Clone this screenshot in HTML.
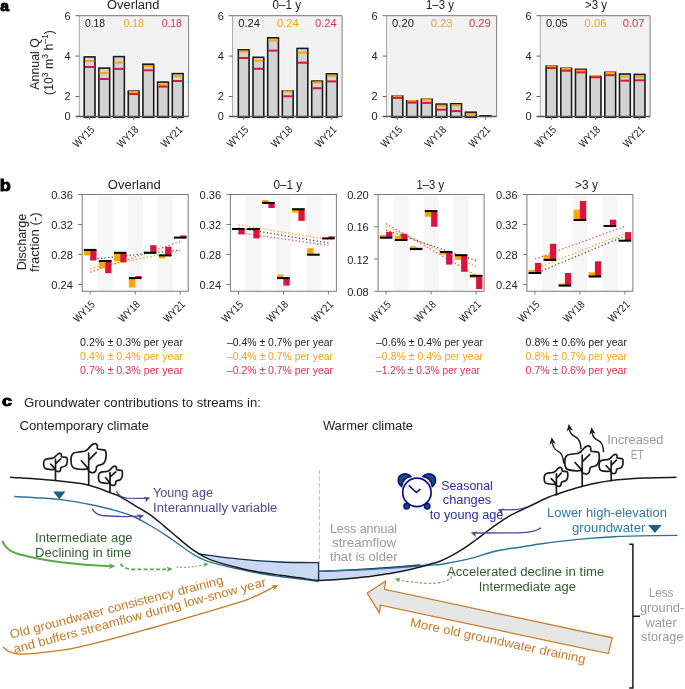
<!DOCTYPE html>
<html><head><meta charset="utf-8"><style>
html,body{margin:0;padding:0;background:#fff;}
svg{display:block;font-family:"Liberation Sans", sans-serif;will-change:transform;}
</style></head><body>
<svg width="685" height="689" viewBox="0 0 685 689">
<rect width="685" height="689" fill="#fff"/>
<text x="0.20" y="11.00" font-size="15.2" fill="#000" font-weight="bold" textLength="8.8" lengthAdjust="spacingAndGlyphs" stroke="#000" stroke-width="0.9">a</text>
<rect x="79.30" y="15.70" width="109.30" height="100.80" fill="#f2f2f2" />
<rect x="82.50" y="55.20" width="14.20" height="61.30" fill="#fafafa" />
<rect x="84.20" y="56.90" width="10.80" height="59.60" fill="#d3d3d3" />
<rect x="84.20" y="56.90" width="10.80" height="60.40" fill="none" stroke="#1a1a1a" stroke-width="1.6" />
<line x1="85.00" y1="61.00" x2="94.20" y2="61.00" stroke="#ffa500" stroke-width="2" />
<line x1="85.00" y1="67.00" x2="94.20" y2="67.00" stroke="#dc143c" stroke-width="2" />
<rect x="97.18" y="66.40" width="14.20" height="50.10" fill="#fafafa" />
<rect x="98.88" y="68.10" width="10.80" height="48.40" fill="#d3d3d3" />
<rect x="98.88" y="68.10" width="10.80" height="49.20" fill="none" stroke="#1a1a1a" stroke-width="1.6" />
<line x1="99.68" y1="73.00" x2="108.88" y2="73.00" stroke="#ffa500" stroke-width="2" />
<line x1="99.68" y1="79.00" x2="108.88" y2="79.00" stroke="#dc143c" stroke-width="2" />
<rect x="111.86" y="54.90" width="14.20" height="61.60" fill="#fafafa" />
<rect x="113.56" y="56.60" width="10.80" height="59.90" fill="#d3d3d3" />
<rect x="113.56" y="56.60" width="10.80" height="60.70" fill="none" stroke="#1a1a1a" stroke-width="1.6" />
<line x1="114.36" y1="62.60" x2="123.56" y2="62.60" stroke="#ffa500" stroke-width="2" />
<line x1="114.36" y1="68.90" x2="123.56" y2="68.90" stroke="#dc143c" stroke-width="2" />
<rect x="126.54" y="89.40" width="14.20" height="27.10" fill="#fafafa" />
<rect x="128.24" y="91.10" width="10.80" height="25.40" fill="#d3d3d3" />
<rect x="128.24" y="91.10" width="10.80" height="26.20" fill="none" stroke="#1a1a1a" stroke-width="1.6" />
<line x1="129.04" y1="92.00" x2="138.24" y2="92.00" stroke="#ffa500" stroke-width="2" />
<line x1="129.04" y1="94.10" x2="138.24" y2="94.10" stroke="#dc143c" stroke-width="2" />
<rect x="141.22" y="62.50" width="14.20" height="54.00" fill="#fafafa" />
<rect x="142.92" y="64.20" width="10.80" height="52.30" fill="#d3d3d3" />
<rect x="142.92" y="64.20" width="10.80" height="53.10" fill="none" stroke="#1a1a1a" stroke-width="1.6" />
<line x1="143.72" y1="66.00" x2="152.92" y2="66.00" stroke="#ffa500" stroke-width="2" />
<line x1="143.72" y1="70.30" x2="152.92" y2="70.30" stroke="#dc143c" stroke-width="2" />
<rect x="155.90" y="80.40" width="14.20" height="36.10" fill="#fafafa" />
<rect x="157.60" y="82.10" width="10.80" height="34.40" fill="#d3d3d3" />
<rect x="157.60" y="82.10" width="10.80" height="35.20" fill="none" stroke="#1a1a1a" stroke-width="1.6" />
<line x1="158.40" y1="84.70" x2="167.60" y2="84.70" stroke="#ffa500" stroke-width="2" />
<line x1="158.40" y1="86.60" x2="167.60" y2="86.60" stroke="#dc143c" stroke-width="2" />
<rect x="170.58" y="71.90" width="14.20" height="44.60" fill="#fafafa" />
<rect x="172.28" y="73.60" width="10.80" height="42.90" fill="#d3d3d3" />
<rect x="172.28" y="73.60" width="10.80" height="43.70" fill="none" stroke="#1a1a1a" stroke-width="1.6" />
<line x1="173.08" y1="76.30" x2="182.28" y2="76.30" stroke="#ffa500" stroke-width="2" />
<line x1="173.08" y1="81.00" x2="182.28" y2="81.00" stroke="#dc143c" stroke-width="2" />
<line x1="79.30" y1="15.70" x2="188.60" y2="15.70" stroke="#777" stroke-width="1" />
<line x1="188.60" y1="15.70" x2="188.60" y2="116.50" stroke="#808080" stroke-width="1" />
<line x1="79.30" y1="15.70" x2="79.30" y2="116.50" stroke="#a8a8a8" stroke-width="1" />
<line x1="75.50" y1="116.50" x2="188.60" y2="116.50" stroke="#555" stroke-width="1.3" />
<line x1="75.50" y1="15.70" x2="79.30" y2="15.70" stroke="#666" stroke-width="1" />
<text x="70.50" y="19.60" font-size="11" fill="#222" text-anchor="end" >6</text>
<line x1="75.50" y1="56.10" x2="79.30" y2="56.10" stroke="#666" stroke-width="1" />
<text x="70.50" y="60.00" font-size="11" fill="#222" text-anchor="end" >4</text>
<line x1="75.50" y1="96.50" x2="79.30" y2="96.50" stroke="#666" stroke-width="1" />
<text x="70.50" y="100.40" font-size="11" fill="#222" text-anchor="end" >2</text>
<text x="70.50" y="120.40" font-size="11" fill="#222" text-anchor="end" >0</text>
<text x="133.20" y="9.40" font-size="12.3" fill="#222" text-anchor="middle" textLength="52.4" lengthAdjust="spacingAndGlyphs" >Overland</text>
<text x="84.90" y="27.00" font-size="10.8" fill="#222" textLength="20.2" lengthAdjust="spacingAndGlyphs" >0.18</text>
<text x="123.60" y="27.00" font-size="10.8" fill="#f7a21b" textLength="20.2" lengthAdjust="spacingAndGlyphs" >0.18</text>
<text x="161.70" y="27.00" font-size="10.8" fill="#e0304f" textLength="20.2" lengthAdjust="spacingAndGlyphs" >0.18</text>
<line x1="89.60" y1="116.50" x2="89.60" y2="119.90" stroke="#777" stroke-width="1" />
<text x="95.10" y="130.40" font-size="10.8" fill="#222" text-anchor="end" textLength="25.3" lengthAdjust="spacingAndGlyphs" transform="rotate(-45 95.10 130.40)" >WY15</text>
<line x1="133.64" y1="116.50" x2="133.64" y2="119.90" stroke="#777" stroke-width="1" />
<text x="139.14" y="130.40" font-size="10.8" fill="#222" text-anchor="end" textLength="25.3" lengthAdjust="spacingAndGlyphs" transform="rotate(-45 139.14 130.40)" >WY18</text>
<line x1="177.68" y1="116.50" x2="177.68" y2="119.90" stroke="#777" stroke-width="1" />
<text x="183.18" y="130.40" font-size="10.8" fill="#222" text-anchor="end" textLength="25.3" lengthAdjust="spacingAndGlyphs" transform="rotate(-45 183.18 130.40)" >WY21</text>
<rect x="232.60" y="15.70" width="109.50" height="100.80" fill="#f2f2f2" />
<rect x="236.60" y="48.10" width="14.20" height="68.40" fill="#fafafa" />
<rect x="238.30" y="49.80" width="10.80" height="66.70" fill="#d3d3d3" />
<rect x="238.30" y="49.80" width="10.80" height="67.50" fill="none" stroke="#1a1a1a" stroke-width="1.6" />
<line x1="239.10" y1="51.50" x2="248.30" y2="51.50" stroke="#ffa500" stroke-width="2" />
<line x1="239.10" y1="58.00" x2="248.30" y2="58.00" stroke="#dc143c" stroke-width="2" />
<rect x="251.28" y="55.60" width="14.20" height="60.90" fill="#fafafa" />
<rect x="252.98" y="57.30" width="10.80" height="59.20" fill="#d3d3d3" />
<rect x="252.98" y="57.30" width="10.80" height="60.00" fill="none" stroke="#1a1a1a" stroke-width="1.6" />
<line x1="253.78" y1="60.70" x2="262.98" y2="60.70" stroke="#ffa500" stroke-width="2" />
<line x1="253.78" y1="68.80" x2="262.98" y2="68.80" stroke="#dc143c" stroke-width="2" />
<rect x="265.96" y="36.10" width="14.20" height="80.40" fill="#fafafa" />
<rect x="267.66" y="37.80" width="10.80" height="78.70" fill="#d3d3d3" />
<rect x="267.66" y="37.80" width="10.80" height="79.50" fill="none" stroke="#1a1a1a" stroke-width="1.6" />
<line x1="268.46" y1="40.40" x2="277.66" y2="40.40" stroke="#ffa500" stroke-width="2" />
<line x1="268.46" y1="50.60" x2="277.66" y2="50.60" stroke="#dc143c" stroke-width="2" />
<rect x="280.64" y="89.20" width="14.20" height="27.30" fill="#fafafa" />
<rect x="282.34" y="90.90" width="10.80" height="25.60" fill="#d3d3d3" />
<rect x="282.34" y="90.90" width="10.80" height="26.40" fill="none" stroke="#1a1a1a" stroke-width="1.6" />
<line x1="283.14" y1="91.30" x2="292.34" y2="91.30" stroke="#ffa500" stroke-width="2" />
<line x1="283.14" y1="96.30" x2="292.34" y2="96.30" stroke="#dc143c" stroke-width="2" />
<rect x="295.32" y="46.70" width="14.20" height="69.80" fill="#fafafa" />
<rect x="297.02" y="48.40" width="10.80" height="68.10" fill="#d3d3d3" />
<rect x="297.02" y="48.40" width="10.80" height="68.90" fill="none" stroke="#1a1a1a" stroke-width="1.6" />
<line x1="297.82" y1="52.70" x2="307.02" y2="52.70" stroke="#ffa500" stroke-width="2" />
<line x1="297.82" y1="62.70" x2="307.02" y2="62.70" stroke="#dc143c" stroke-width="2" />
<rect x="310.00" y="79.40" width="14.20" height="37.10" fill="#fafafa" />
<rect x="311.70" y="81.10" width="10.80" height="35.40" fill="#d3d3d3" />
<rect x="311.70" y="81.10" width="10.80" height="36.20" fill="none" stroke="#1a1a1a" stroke-width="1.6" />
<line x1="312.50" y1="82.40" x2="321.70" y2="82.40" stroke="#ffa500" stroke-width="2" />
<line x1="312.50" y1="88.20" x2="321.70" y2="88.20" stroke="#dc143c" stroke-width="2" />
<rect x="324.68" y="72.10" width="14.20" height="44.40" fill="#fafafa" />
<rect x="326.38" y="73.80" width="10.80" height="42.70" fill="#d3d3d3" />
<rect x="326.38" y="73.80" width="10.80" height="43.50" fill="none" stroke="#1a1a1a" stroke-width="1.6" />
<line x1="327.18" y1="75.80" x2="336.38" y2="75.80" stroke="#ffa500" stroke-width="2" />
<line x1="327.18" y1="81.40" x2="336.38" y2="81.40" stroke="#dc143c" stroke-width="2" />
<line x1="232.60" y1="15.70" x2="342.10" y2="15.70" stroke="#777" stroke-width="1" />
<line x1="342.10" y1="15.70" x2="342.10" y2="116.50" stroke="#808080" stroke-width="1" />
<line x1="232.60" y1="15.70" x2="232.60" y2="116.50" stroke="#a8a8a8" stroke-width="1" />
<line x1="228.80" y1="116.50" x2="342.10" y2="116.50" stroke="#555" stroke-width="1.3" />
<line x1="228.80" y1="15.70" x2="232.60" y2="15.70" stroke="#666" stroke-width="1" />
<text x="223.80" y="19.60" font-size="11" fill="#222" text-anchor="end" >6</text>
<line x1="228.80" y1="56.10" x2="232.60" y2="56.10" stroke="#666" stroke-width="1" />
<text x="223.80" y="60.00" font-size="11" fill="#222" text-anchor="end" >4</text>
<line x1="228.80" y1="96.50" x2="232.60" y2="96.50" stroke="#666" stroke-width="1" />
<text x="223.80" y="100.40" font-size="11" fill="#222" text-anchor="end" >2</text>
<text x="223.80" y="120.40" font-size="11" fill="#222" text-anchor="end" >0</text>
<text x="286.70" y="9.40" font-size="12.3" fill="#222" text-anchor="middle" textLength="28.6" lengthAdjust="spacingAndGlyphs" >0–1 y</text>
<text x="238.20" y="27.00" font-size="10.8" fill="#222" textLength="21.8" lengthAdjust="spacingAndGlyphs" >0.24</text>
<text x="276.90" y="27.00" font-size="10.8" fill="#f7a21b" textLength="21.8" lengthAdjust="spacingAndGlyphs" >0.24</text>
<text x="315.00" y="27.00" font-size="10.8" fill="#e0304f" textLength="21.8" lengthAdjust="spacingAndGlyphs" >0.24</text>
<line x1="243.70" y1="116.50" x2="243.70" y2="119.90" stroke="#777" stroke-width="1" />
<text x="249.20" y="130.40" font-size="10.8" fill="#222" text-anchor="end" textLength="25.3" lengthAdjust="spacingAndGlyphs" transform="rotate(-45 249.20 130.40)" >WY15</text>
<line x1="287.74" y1="116.50" x2="287.74" y2="119.90" stroke="#777" stroke-width="1" />
<text x="293.24" y="130.40" font-size="10.8" fill="#222" text-anchor="end" textLength="25.3" lengthAdjust="spacingAndGlyphs" transform="rotate(-45 293.24 130.40)" >WY18</text>
<line x1="331.78" y1="116.50" x2="331.78" y2="119.90" stroke="#777" stroke-width="1" />
<text x="337.28" y="130.40" font-size="10.8" fill="#222" text-anchor="end" textLength="25.3" lengthAdjust="spacingAndGlyphs" transform="rotate(-45 337.28 130.40)" >WY21</text>
<rect x="386.50" y="15.70" width="110.10" height="100.80" fill="#f2f2f2" />
<rect x="390.30" y="94.40" width="14.20" height="22.10" fill="#fafafa" />
<rect x="392.00" y="96.10" width="10.80" height="20.40" fill="#d3d3d3" />
<rect x="392.00" y="96.10" width="10.80" height="21.20" fill="none" stroke="#1a1a1a" stroke-width="1.6" />
<line x1="392.80" y1="96.50" x2="402.00" y2="96.50" stroke="#ffa500" stroke-width="2" />
<line x1="392.80" y1="97.90" x2="402.00" y2="97.90" stroke="#dc143c" stroke-width="2" />
<rect x="404.98" y="99.10" width="14.20" height="17.40" fill="#fafafa" />
<rect x="406.68" y="100.80" width="10.80" height="15.70" fill="#d3d3d3" />
<rect x="406.68" y="100.80" width="10.80" height="16.50" fill="none" stroke="#1a1a1a" stroke-width="1.6" />
<line x1="407.48" y1="100.90" x2="416.68" y2="100.90" stroke="#ffa500" stroke-width="2" />
<line x1="407.48" y1="102.60" x2="416.68" y2="102.60" stroke="#dc143c" stroke-width="2" />
<rect x="419.66" y="97.50" width="14.20" height="19.00" fill="#fafafa" />
<rect x="421.36" y="99.20" width="10.80" height="17.30" fill="#d3d3d3" />
<rect x="421.36" y="99.20" width="10.80" height="18.10" fill="none" stroke="#1a1a1a" stroke-width="1.6" />
<line x1="422.16" y1="99.60" x2="431.36" y2="99.60" stroke="#ffa500" stroke-width="2" />
<line x1="422.16" y1="102.90" x2="431.36" y2="102.90" stroke="#dc143c" stroke-width="2" />
<rect x="434.34" y="102.40" width="14.20" height="14.10" fill="#fafafa" />
<rect x="436.04" y="104.10" width="10.80" height="12.40" fill="#d3d3d3" />
<rect x="436.04" y="104.10" width="10.80" height="13.20" fill="none" stroke="#1a1a1a" stroke-width="1.6" />
<line x1="436.84" y1="105.80" x2="446.04" y2="105.80" stroke="#ffa500" stroke-width="2" />
<line x1="436.84" y1="109.70" x2="446.04" y2="109.70" stroke="#dc143c" stroke-width="2" />
<rect x="449.02" y="102.10" width="14.20" height="14.40" fill="#fafafa" />
<rect x="450.72" y="103.80" width="10.80" height="12.70" fill="#d3d3d3" />
<rect x="450.72" y="103.80" width="10.80" height="13.50" fill="none" stroke="#1a1a1a" stroke-width="1.6" />
<line x1="451.52" y1="105.50" x2="460.72" y2="105.50" stroke="#ffa500" stroke-width="2" />
<line x1="451.52" y1="111.10" x2="460.72" y2="111.10" stroke="#dc143c" stroke-width="2" />
<rect x="463.70" y="110.50" width="14.20" height="6.00" fill="#fafafa" />
<rect x="465.40" y="112.20" width="10.80" height="4.30" fill="#d3d3d3" />
<rect x="465.40" y="112.20" width="10.80" height="5.10" fill="none" stroke="#1a1a1a" stroke-width="1.6" />
<line x1="466.20" y1="113.90" x2="475.40" y2="113.90" stroke="#ffa500" stroke-width="2" />
<rect x="478.38" y="114.10" width="14.20" height="2.40" fill="#fafafa" />
<rect x="479.28" y="115.00" width="12.40" height="2.10" fill="#111" />
<line x1="386.50" y1="15.70" x2="496.60" y2="15.70" stroke="#777" stroke-width="1" />
<line x1="496.60" y1="15.70" x2="496.60" y2="116.50" stroke="#808080" stroke-width="1" />
<line x1="386.50" y1="15.70" x2="386.50" y2="116.50" stroke="#a8a8a8" stroke-width="1" />
<line x1="382.70" y1="116.50" x2="496.60" y2="116.50" stroke="#555" stroke-width="1.3" />
<line x1="382.70" y1="15.70" x2="386.50" y2="15.70" stroke="#666" stroke-width="1" />
<text x="377.70" y="19.60" font-size="11" fill="#222" text-anchor="end" >6</text>
<line x1="382.70" y1="56.10" x2="386.50" y2="56.10" stroke="#666" stroke-width="1" />
<text x="377.70" y="60.00" font-size="11" fill="#222" text-anchor="end" >4</text>
<line x1="382.70" y1="96.50" x2="386.50" y2="96.50" stroke="#666" stroke-width="1" />
<text x="377.70" y="100.40" font-size="11" fill="#222" text-anchor="end" >2</text>
<text x="377.70" y="120.40" font-size="11" fill="#222" text-anchor="end" >0</text>
<text x="440.00" y="9.40" font-size="12.3" fill="#222" text-anchor="middle" textLength="28.0" lengthAdjust="spacingAndGlyphs" >1–3 y</text>
<text x="392.10" y="27.00" font-size="10.8" fill="#222" textLength="21.8" lengthAdjust="spacingAndGlyphs" >0.20</text>
<text x="430.80" y="27.00" font-size="10.8" fill="#f7a21b" textLength="21.8" lengthAdjust="spacingAndGlyphs" >0.23</text>
<text x="468.90" y="27.00" font-size="10.8" fill="#e0304f" textLength="21.8" lengthAdjust="spacingAndGlyphs" >0.29</text>
<line x1="397.40" y1="116.50" x2="397.40" y2="119.90" stroke="#777" stroke-width="1" />
<text x="402.90" y="130.40" font-size="10.8" fill="#222" text-anchor="end" textLength="25.3" lengthAdjust="spacingAndGlyphs" transform="rotate(-45 402.90 130.40)" >WY15</text>
<line x1="441.44" y1="116.50" x2="441.44" y2="119.90" stroke="#777" stroke-width="1" />
<text x="446.94" y="130.40" font-size="10.8" fill="#222" text-anchor="end" textLength="25.3" lengthAdjust="spacingAndGlyphs" transform="rotate(-45 446.94 130.40)" >WY18</text>
<line x1="485.48" y1="116.50" x2="485.48" y2="119.90" stroke="#777" stroke-width="1" />
<text x="490.98" y="130.40" font-size="10.8" fill="#222" text-anchor="end" textLength="25.3" lengthAdjust="spacingAndGlyphs" transform="rotate(-45 490.98 130.40)" >WY21</text>
<rect x="540.30" y="15.70" width="109.80" height="100.80" fill="#f2f2f2" />
<rect x="544.40" y="64.50" width="14.20" height="52.00" fill="#fafafa" />
<rect x="546.10" y="66.20" width="10.80" height="50.30" fill="#d3d3d3" />
<rect x="546.10" y="66.20" width="10.80" height="51.10" fill="none" stroke="#1a1a1a" stroke-width="1.6" />
<line x1="546.90" y1="66.80" x2="556.10" y2="66.80" stroke="#ffa500" stroke-width="2" />
<line x1="546.90" y1="68.10" x2="556.10" y2="68.10" stroke="#dc143c" stroke-width="2" />
<rect x="559.08" y="66.60" width="14.20" height="49.90" fill="#fafafa" />
<rect x="560.78" y="68.30" width="10.80" height="48.20" fill="#d3d3d3" />
<rect x="560.78" y="68.30" width="10.80" height="49.00" fill="none" stroke="#1a1a1a" stroke-width="1.6" />
<line x1="561.58" y1="69.00" x2="570.78" y2="69.00" stroke="#ffa500" stroke-width="2" />
<line x1="561.58" y1="70.70" x2="570.78" y2="70.70" stroke="#dc143c" stroke-width="2" />
<rect x="573.76" y="67.60" width="14.20" height="48.90" fill="#fafafa" />
<rect x="575.46" y="69.30" width="10.80" height="47.20" fill="#d3d3d3" />
<rect x="575.46" y="69.30" width="10.80" height="48.00" fill="none" stroke="#1a1a1a" stroke-width="1.6" />
<line x1="576.26" y1="70.70" x2="585.46" y2="70.70" stroke="#ffa500" stroke-width="2" />
<line x1="576.26" y1="72.40" x2="585.46" y2="72.40" stroke="#dc143c" stroke-width="2" />
<rect x="588.44" y="74.70" width="14.20" height="41.80" fill="#fafafa" />
<rect x="590.14" y="76.40" width="10.80" height="40.10" fill="#d3d3d3" />
<rect x="590.14" y="76.40" width="10.80" height="40.90" fill="none" stroke="#1a1a1a" stroke-width="1.6" />
<line x1="590.94" y1="76.20" x2="600.14" y2="76.20" stroke="#ffa500" stroke-width="2" />
<line x1="590.94" y1="77.30" x2="600.14" y2="77.30" stroke="#dc143c" stroke-width="2" />
<rect x="603.12" y="70.60" width="14.20" height="45.90" fill="#fafafa" />
<rect x="604.82" y="72.30" width="10.80" height="44.20" fill="#d3d3d3" />
<rect x="604.82" y="72.30" width="10.80" height="45.00" fill="none" stroke="#1a1a1a" stroke-width="1.6" />
<line x1="605.62" y1="73.00" x2="614.82" y2="73.00" stroke="#ffa500" stroke-width="2" />
<line x1="605.62" y1="75.20" x2="614.82" y2="75.20" stroke="#dc143c" stroke-width="2" />
<rect x="617.80" y="72.30" width="14.20" height="44.20" fill="#fafafa" />
<rect x="619.50" y="74.00" width="10.80" height="42.50" fill="#d3d3d3" />
<rect x="619.50" y="74.00" width="10.80" height="43.30" fill="none" stroke="#1a1a1a" stroke-width="1.6" />
<line x1="620.30" y1="76.60" x2="629.50" y2="76.60" stroke="#ffa500" stroke-width="2" />
<line x1="620.30" y1="80.70" x2="629.50" y2="80.70" stroke="#dc143c" stroke-width="2" />
<rect x="632.48" y="72.70" width="14.20" height="43.80" fill="#fafafa" />
<rect x="634.18" y="74.40" width="10.80" height="42.10" fill="#d3d3d3" />
<rect x="634.18" y="74.40" width="10.80" height="42.90" fill="none" stroke="#1a1a1a" stroke-width="1.6" />
<line x1="634.98" y1="76.90" x2="644.18" y2="76.90" stroke="#ffa500" stroke-width="2" />
<line x1="634.98" y1="80.30" x2="644.18" y2="80.30" stroke="#dc143c" stroke-width="2" />
<line x1="540.30" y1="15.70" x2="650.10" y2="15.70" stroke="#777" stroke-width="1" />
<line x1="650.10" y1="15.70" x2="650.10" y2="116.50" stroke="#808080" stroke-width="1" />
<line x1="540.30" y1="15.70" x2="540.30" y2="116.50" stroke="#a8a8a8" stroke-width="1" />
<line x1="536.50" y1="116.50" x2="650.10" y2="116.50" stroke="#555" stroke-width="1.3" />
<line x1="536.50" y1="15.70" x2="540.30" y2="15.70" stroke="#666" stroke-width="1" />
<text x="531.50" y="19.60" font-size="11" fill="#222" text-anchor="end" >6</text>
<line x1="536.50" y1="56.10" x2="540.30" y2="56.10" stroke="#666" stroke-width="1" />
<text x="531.50" y="60.00" font-size="11" fill="#222" text-anchor="end" >4</text>
<line x1="536.50" y1="96.50" x2="540.30" y2="96.50" stroke="#666" stroke-width="1" />
<text x="531.50" y="100.40" font-size="11" fill="#222" text-anchor="end" >2</text>
<text x="531.50" y="120.40" font-size="11" fill="#222" text-anchor="end" >0</text>
<text x="596.00" y="9.40" font-size="12.3" fill="#222" text-anchor="middle" textLength="22.0" lengthAdjust="spacingAndGlyphs" >&gt;3 y</text>
<text x="545.90" y="27.00" font-size="10.8" fill="#222" textLength="21.8" lengthAdjust="spacingAndGlyphs" >0.05</text>
<text x="584.60" y="27.00" font-size="10.8" fill="#f7a21b" textLength="21.8" lengthAdjust="spacingAndGlyphs" >0.06</text>
<text x="622.70" y="27.00" font-size="10.8" fill="#e0304f" textLength="21.8" lengthAdjust="spacingAndGlyphs" >0.07</text>
<line x1="551.50" y1="116.50" x2="551.50" y2="119.90" stroke="#777" stroke-width="1" />
<text x="557.00" y="130.40" font-size="10.8" fill="#222" text-anchor="end" textLength="25.3" lengthAdjust="spacingAndGlyphs" transform="rotate(-45 557.00 130.40)" >WY15</text>
<line x1="595.54" y1="116.50" x2="595.54" y2="119.90" stroke="#777" stroke-width="1" />
<text x="601.04" y="130.40" font-size="10.8" fill="#222" text-anchor="end" textLength="25.3" lengthAdjust="spacingAndGlyphs" transform="rotate(-45 601.04 130.40)" >WY18</text>
<line x1="639.58" y1="116.50" x2="639.58" y2="119.90" stroke="#777" stroke-width="1" />
<text x="645.08" y="130.40" font-size="10.8" fill="#222" text-anchor="end" textLength="25.3" lengthAdjust="spacingAndGlyphs" transform="rotate(-45 645.08 130.40)" >WY21</text>
<text transform="translate(38.5 63.9) rotate(-90)" text-anchor="middle" font-size="12.3" fill="#222" textLength="51.6" lengthAdjust="spacingAndGlyphs">Annual Q</text>
<text transform="translate(52.7 62.5) rotate(-90)" text-anchor="middle" font-size="12.3" fill="#222">(10<tspan font-size="8.6" dy="-4.8">3</tspan><tspan dy="4.8"> m</tspan><tspan font-size="8.6" dy="-4.8">3</tspan><tspan dy="4.8"> h</tspan><tspan font-size="8.6" dy="-4.8">–1</tspan><tspan dy="4.8">)</tspan></text>
<text x="-0.20" y="190.50" font-size="16.6" fill="#000" font-weight="bold" textLength="11.0" lengthAdjust="spacingAndGlyphs" stroke="#000" stroke-width="0.9">b</text>
<rect x="97.70" y="195.50" width="15.00" height="95.30" fill="#f6f6f6" />
<rect x="127.70" y="195.50" width="15.00" height="95.30" fill="#f6f6f6" />
<rect x="157.70" y="195.50" width="15.00" height="95.30" fill="#f6f6f6" />
<line x1="90.2" y1="259.5" x2="180.2" y2="250" stroke="#555" stroke-width="1.3" stroke-dasharray="1.3 2.3" />
<line x1="90.2" y1="268.3" x2="180.2" y2="250.8" stroke="#ffa500" stroke-width="1.3" stroke-dasharray="1.3 2.3" />
<line x1="90.2" y1="272.2" x2="180.2" y2="241.6" stroke="#e8506a" stroke-width="1.3" stroke-dasharray="1.3 2.3" />
<rect x="83.90" y="249.90" width="6.30" height="5.50" fill="#ffa500" />
<rect x="90.20" y="249.90" width="6.30" height="10.60" fill="#dc143c" />
<rect x="83.90" y="248.90" width="12.60" height="2.00" fill="#000" />
<rect x="98.90" y="261.00" width="6.30" height="7.30" fill="#ffa500" />
<rect x="105.20" y="261.00" width="6.30" height="12.20" fill="#dc143c" />
<rect x="98.90" y="260.00" width="12.60" height="2.00" fill="#000" />
<rect x="113.90" y="252.80" width="6.30" height="8.20" fill="#ffa500" />
<rect x="120.20" y="252.80" width="6.30" height="9.60" fill="#dc143c" />
<rect x="113.90" y="251.80" width="12.60" height="2.00" fill="#000" />
<rect x="128.90" y="278.10" width="6.30" height="9.30" fill="#ffa500" />
<rect x="135.20" y="276.00" width="6.30" height="2.10" fill="#dc143c" />
<rect x="128.90" y="277.10" width="12.60" height="2.00" fill="#000" />
<rect x="143.90" y="251.50" width="6.30" height="1.30" fill="#ffa500" />
<rect x="150.20" y="245.20" width="6.30" height="7.60" fill="#dc143c" />
<rect x="143.90" y="251.80" width="12.60" height="2.00" fill="#000" />
<rect x="158.90" y="255.40" width="6.30" height="3.00" fill="#ffa500" />
<rect x="165.20" y="246.70" width="6.30" height="8.70" fill="#dc143c" />
<rect x="158.90" y="254.40" width="12.60" height="2.00" fill="#000" />
<rect x="180.20" y="235.40" width="6.30" height="2.20" fill="#dc143c" />
<rect x="173.90" y="236.60" width="12.60" height="2.00" fill="#000" />
<rect x="82.2" y="194.5" width="106" height="96.80000000000001" fill="none" stroke="#7a7a7a" stroke-width="1"/>
<line x1="78.20" y1="194.50" x2="82.20" y2="194.50" stroke="#777" stroke-width="1" />
<text x="72.90" y="199.20" font-size="10.8" fill="#222" text-anchor="end" textLength="21.6" lengthAdjust="spacingAndGlyphs" >0.36</text>
<line x1="78.20" y1="224.50" x2="82.20" y2="224.50" stroke="#777" stroke-width="1" />
<text x="72.90" y="229.20" font-size="10.8" fill="#222" text-anchor="end" textLength="21.6" lengthAdjust="spacingAndGlyphs" >0.32</text>
<line x1="78.20" y1="254.50" x2="82.20" y2="254.50" stroke="#777" stroke-width="1" />
<text x="72.90" y="259.20" font-size="10.8" fill="#222" text-anchor="end" textLength="21.6" lengthAdjust="spacingAndGlyphs" >0.28</text>
<line x1="78.20" y1="284.50" x2="82.20" y2="284.50" stroke="#777" stroke-width="1" />
<text x="72.90" y="289.20" font-size="10.8" fill="#222" text-anchor="end" textLength="21.6" lengthAdjust="spacingAndGlyphs" >0.24</text>
<text x="134.20" y="188.80" font-size="12.3" fill="#222" text-anchor="middle" textLength="52.9" lengthAdjust="spacingAndGlyphs" >Overland</text>
<line x1="90.20" y1="291.30" x2="90.20" y2="294.50" stroke="#777" stroke-width="1" />
<text x="95.70" y="305.20" font-size="10.8" fill="#222" text-anchor="end" textLength="25.3" lengthAdjust="spacingAndGlyphs" transform="rotate(-45 95.70 305.20)" >WY15</text>
<line x1="135.20" y1="291.30" x2="135.20" y2="294.50" stroke="#777" stroke-width="1" />
<text x="140.70" y="305.20" font-size="10.8" fill="#222" text-anchor="end" textLength="25.3" lengthAdjust="spacingAndGlyphs" transform="rotate(-45 140.70 305.20)" >WY18</text>
<line x1="180.20" y1="291.30" x2="180.20" y2="294.50" stroke="#777" stroke-width="1" />
<text x="185.70" y="305.20" font-size="10.8" fill="#222" text-anchor="end" textLength="25.3" lengthAdjust="spacingAndGlyphs" transform="rotate(-45 185.70 305.20)" >WY21</text>
<rect x="245.90" y="195.50" width="15.00" height="95.30" fill="#f6f6f6" />
<rect x="275.90" y="195.50" width="15.00" height="95.30" fill="#f6f6f6" />
<rect x="305.90" y="195.50" width="15.00" height="95.30" fill="#f6f6f6" />
<line x1="238.4" y1="228" x2="328.4" y2="243" stroke="#555" stroke-width="1.3" stroke-dasharray="1.3 2.3" />
<line x1="238.4" y1="224.8" x2="328.4" y2="239.6" stroke="#ffa500" stroke-width="1.3" stroke-dasharray="1.3 2.3" />
<line x1="238.4" y1="232.6" x2="328.4" y2="245.4" stroke="#e8506a" stroke-width="1.3" stroke-dasharray="1.3 2.3" />
<rect x="238.40" y="229.00" width="6.30" height="5.40" fill="#dc143c" />
<rect x="232.10" y="228.00" width="12.60" height="2.00" fill="#000" />
<rect x="247.10" y="228.20" width="6.30" height="0.80" fill="#ffa500" />
<rect x="253.40" y="229.00" width="6.30" height="9.40" fill="#dc143c" />
<rect x="247.10" y="228.00" width="12.60" height="2.00" fill="#000" />
<rect x="262.10" y="199.90" width="6.30" height="3.00" fill="#ffa500" />
<rect x="268.40" y="202.90" width="6.30" height="5.10" fill="#dc143c" />
<rect x="262.10" y="201.90" width="12.60" height="2.00" fill="#000" />
<rect x="277.10" y="274.60" width="6.30" height="3.50" fill="#ffa500" />
<rect x="283.40" y="278.10" width="6.30" height="7.50" fill="#dc143c" />
<rect x="277.10" y="277.10" width="12.60" height="2.00" fill="#000" />
<rect x="292.10" y="209.20" width="6.30" height="3.50" fill="#ffa500" />
<rect x="298.40" y="209.20" width="6.30" height="11.70" fill="#dc143c" />
<rect x="292.10" y="208.20" width="12.60" height="2.00" fill="#000" />
<rect x="307.10" y="248.20" width="6.30" height="6.50" fill="#ffa500" />
<rect x="307.10" y="253.70" width="12.60" height="2.00" fill="#000" />
<rect x="328.40" y="236.30" width="6.30" height="2.10" fill="#dc143c" />
<rect x="322.10" y="237.40" width="12.60" height="2.00" fill="#000" />
<rect x="230.4" y="194.5" width="106" height="96.80000000000001" fill="none" stroke="#7a7a7a" stroke-width="1"/>
<line x1="226.40" y1="194.50" x2="230.40" y2="194.50" stroke="#777" stroke-width="1" />
<text x="221.10" y="199.20" font-size="10.8" fill="#222" text-anchor="end" textLength="21.6" lengthAdjust="spacingAndGlyphs" >0.36</text>
<line x1="226.40" y1="224.50" x2="230.40" y2="224.50" stroke="#777" stroke-width="1" />
<text x="221.10" y="229.20" font-size="10.8" fill="#222" text-anchor="end" textLength="21.6" lengthAdjust="spacingAndGlyphs" >0.32</text>
<line x1="226.40" y1="254.50" x2="230.40" y2="254.50" stroke="#777" stroke-width="1" />
<text x="221.10" y="259.20" font-size="10.8" fill="#222" text-anchor="end" textLength="21.6" lengthAdjust="spacingAndGlyphs" >0.28</text>
<line x1="226.40" y1="284.50" x2="230.40" y2="284.50" stroke="#777" stroke-width="1" />
<text x="221.10" y="289.20" font-size="10.8" fill="#222" text-anchor="end" textLength="21.6" lengthAdjust="spacingAndGlyphs" >0.24</text>
<text x="287.70" y="188.80" font-size="12.3" fill="#222" text-anchor="middle" textLength="28.6" lengthAdjust="spacingAndGlyphs" >0–1 y</text>
<line x1="238.40" y1="291.30" x2="238.40" y2="294.50" stroke="#777" stroke-width="1" />
<text x="243.90" y="305.20" font-size="10.8" fill="#222" text-anchor="end" textLength="25.3" lengthAdjust="spacingAndGlyphs" transform="rotate(-45 243.90 305.20)" >WY15</text>
<line x1="283.40" y1="291.30" x2="283.40" y2="294.50" stroke="#777" stroke-width="1" />
<text x="288.90" y="305.20" font-size="10.8" fill="#222" text-anchor="end" textLength="25.3" lengthAdjust="spacingAndGlyphs" transform="rotate(-45 288.90 305.20)" >WY18</text>
<line x1="328.40" y1="291.30" x2="328.40" y2="294.50" stroke="#777" stroke-width="1" />
<text x="333.90" y="305.20" font-size="10.8" fill="#222" text-anchor="end" textLength="25.3" lengthAdjust="spacingAndGlyphs" transform="rotate(-45 333.90 305.20)" >WY21</text>
<rect x="393.60" y="195.50" width="15.00" height="95.30" fill="#f6f6f6" />
<rect x="423.60" y="195.50" width="15.00" height="95.30" fill="#f6f6f6" />
<rect x="453.60" y="195.50" width="15.00" height="95.30" fill="#f6f6f6" />
<line x1="386.1" y1="230.2" x2="476.1" y2="260.6" stroke="#555" stroke-width="1.3" stroke-dasharray="1.3 2.3" />
<line x1="386.1" y1="226.7" x2="476.1" y2="266.4" stroke="#ffa500" stroke-width="1.3" stroke-dasharray="1.3 2.3" />
<line x1="386.1" y1="223.7" x2="476.1" y2="275.3" stroke="#e8506a" stroke-width="1.3" stroke-dasharray="1.3 2.3" />
<rect x="379.80" y="234.90" width="6.30" height="2.80" fill="#ffa500" />
<rect x="386.10" y="231.90" width="6.30" height="5.80" fill="#dc143c" />
<rect x="379.80" y="236.70" width="12.60" height="2.00" fill="#000" />
<rect x="394.80" y="236.00" width="6.30" height="4.00" fill="#ffa500" />
<rect x="401.10" y="233.70" width="6.30" height="6.30" fill="#dc143c" />
<rect x="394.80" y="239.00" width="12.60" height="2.00" fill="#000" />
<rect x="409.80" y="246.10" width="6.30" height="3.00" fill="#ffa500" />
<rect x="416.10" y="247.70" width="6.30" height="1.40" fill="#dc143c" />
<rect x="409.80" y="248.10" width="12.60" height="2.00" fill="#000" />
<rect x="424.80" y="211.10" width="6.30" height="5.60" fill="#ffa500" />
<rect x="431.10" y="211.10" width="6.30" height="15.60" fill="#dc143c" />
<rect x="424.80" y="210.10" width="12.60" height="2.00" fill="#000" />
<rect x="439.80" y="252.00" width="6.30" height="2.70" fill="#ffa500" />
<rect x="446.10" y="252.00" width="6.30" height="12.60" fill="#dc143c" />
<rect x="439.80" y="251.00" width="12.60" height="2.00" fill="#000" />
<rect x="454.80" y="255.20" width="6.30" height="4.70" fill="#ffa500" />
<rect x="461.10" y="255.20" width="6.30" height="16.60" fill="#dc143c" />
<rect x="454.80" y="254.20" width="12.60" height="2.00" fill="#000" />
<rect x="469.80" y="275.80" width="6.30" height="2.30" fill="#ffa500" />
<rect x="476.10" y="275.80" width="6.30" height="13.30" fill="#dc143c" />
<rect x="469.80" y="274.80" width="12.60" height="2.00" fill="#000" />
<rect x="378.1" y="194.5" width="106" height="96.80000000000001" fill="none" stroke="#7a7a7a" stroke-width="1"/>
<line x1="374.10" y1="194.50" x2="378.10" y2="194.50" stroke="#777" stroke-width="1" />
<text x="368.80" y="199.20" font-size="10.8" fill="#222" text-anchor="end" textLength="21.6" lengthAdjust="spacingAndGlyphs" >0.20</text>
<line x1="374.10" y1="226.76" x2="378.10" y2="226.76" stroke="#777" stroke-width="1" />
<text x="368.80" y="231.46" font-size="10.8" fill="#222" text-anchor="end" textLength="21.6" lengthAdjust="spacingAndGlyphs" >0.16</text>
<line x1="374.10" y1="259.03" x2="378.10" y2="259.03" stroke="#777" stroke-width="1" />
<text x="368.80" y="263.73" font-size="10.8" fill="#222" text-anchor="end" textLength="21.6" lengthAdjust="spacingAndGlyphs" >0.12</text>
<line x1="374.10" y1="291.30" x2="378.10" y2="291.30" stroke="#777" stroke-width="1" />
<text x="368.80" y="296.00" font-size="10.8" fill="#222" text-anchor="end" textLength="21.6" lengthAdjust="spacingAndGlyphs" >0.08</text>
<text x="430.30" y="188.80" font-size="12.3" fill="#222" text-anchor="middle" textLength="27.7" lengthAdjust="spacingAndGlyphs" >1–3 y</text>
<line x1="386.10" y1="291.30" x2="386.10" y2="294.50" stroke="#777" stroke-width="1" />
<text x="391.60" y="305.20" font-size="10.8" fill="#222" text-anchor="end" textLength="25.3" lengthAdjust="spacingAndGlyphs" transform="rotate(-45 391.60 305.20)" >WY15</text>
<line x1="431.10" y1="291.30" x2="431.10" y2="294.50" stroke="#777" stroke-width="1" />
<text x="436.60" y="305.20" font-size="10.8" fill="#222" text-anchor="end" textLength="25.3" lengthAdjust="spacingAndGlyphs" transform="rotate(-45 436.60 305.20)" >WY18</text>
<line x1="476.10" y1="291.30" x2="476.10" y2="294.50" stroke="#777" stroke-width="1" />
<text x="481.60" y="305.20" font-size="10.8" fill="#222" text-anchor="end" textLength="25.3" lengthAdjust="spacingAndGlyphs" transform="rotate(-45 481.60 305.20)" >WY21</text>
<rect x="542.40" y="195.50" width="15.00" height="95.30" fill="#f6f6f6" />
<rect x="572.40" y="195.50" width="15.00" height="95.30" fill="#f6f6f6" />
<rect x="602.40" y="195.50" width="15.00" height="95.30" fill="#f6f6f6" />
<line x1="535" y1="273.6" x2="625" y2="236" stroke="#555" stroke-width="1.3" stroke-dasharray="1.3 2.3" />
<line x1="535" y1="268.8" x2="625" y2="233.5" stroke="#ffa500" stroke-width="1.3" stroke-dasharray="1.3 2.3" />
<line x1="535" y1="259" x2="625" y2="226.3" stroke="#e8506a" stroke-width="1.3" stroke-dasharray="1.3 2.3" />
<rect x="528.60" y="269.90" width="6.30" height="3.10" fill="#ffa500" />
<rect x="534.90" y="262.90" width="6.30" height="10.10" fill="#dc143c" />
<rect x="528.60" y="272.00" width="12.60" height="2.00" fill="#000" />
<rect x="543.60" y="255.20" width="6.30" height="4.70" fill="#ffa500" />
<rect x="549.90" y="243.80" width="6.30" height="16.10" fill="#dc143c" />
<rect x="543.60" y="258.90" width="12.60" height="2.00" fill="#000" />
<rect x="558.60" y="283.50" width="6.30" height="2.10" fill="#ffa500" />
<rect x="564.90" y="273.00" width="6.30" height="12.60" fill="#dc143c" />
<rect x="558.60" y="284.60" width="12.60" height="2.00" fill="#000" />
<rect x="573.60" y="209.70" width="6.30" height="10.30" fill="#ffa500" />
<rect x="579.90" y="201.00" width="6.30" height="19.00" fill="#dc143c" />
<rect x="573.60" y="219.00" width="12.60" height="2.00" fill="#000" />
<rect x="588.60" y="272.30" width="6.30" height="4.20" fill="#ffa500" />
<rect x="594.90" y="261.30" width="6.30" height="15.20" fill="#dc143c" />
<rect x="588.60" y="275.50" width="12.60" height="2.00" fill="#000" />
<rect x="603.60" y="225.20" width="6.30" height="0.80" fill="#ffa500" />
<rect x="609.90" y="219.70" width="6.30" height="6.30" fill="#dc143c" />
<rect x="603.60" y="225.00" width="12.60" height="2.00" fill="#000" />
<rect x="618.60" y="239.90" width="6.30" height="0.80" fill="#ffa500" />
<rect x="624.90" y="232.10" width="6.30" height="8.60" fill="#dc143c" />
<rect x="618.60" y="239.70" width="12.60" height="2.00" fill="#000" />
<rect x="526.9" y="194.5" width="106" height="96.80000000000001" fill="none" stroke="#7a7a7a" stroke-width="1"/>
<line x1="522.90" y1="194.50" x2="526.90" y2="194.50" stroke="#777" stroke-width="1" />
<text x="517.60" y="199.20" font-size="10.8" fill="#222" text-anchor="end" textLength="21.6" lengthAdjust="spacingAndGlyphs" >0.36</text>
<line x1="522.90" y1="224.50" x2="526.90" y2="224.50" stroke="#777" stroke-width="1" />
<text x="517.60" y="229.20" font-size="10.8" fill="#222" text-anchor="end" textLength="21.6" lengthAdjust="spacingAndGlyphs" >0.32</text>
<line x1="522.90" y1="254.50" x2="526.90" y2="254.50" stroke="#777" stroke-width="1" />
<text x="517.60" y="259.20" font-size="10.8" fill="#222" text-anchor="end" textLength="21.6" lengthAdjust="spacingAndGlyphs" >0.28</text>
<line x1="522.90" y1="284.50" x2="526.90" y2="284.50" stroke="#777" stroke-width="1" />
<text x="517.60" y="289.20" font-size="10.8" fill="#222" text-anchor="end" textLength="21.6" lengthAdjust="spacingAndGlyphs" >0.24</text>
<text x="586.50" y="188.80" font-size="12.3" fill="#222" text-anchor="middle" textLength="22.8" lengthAdjust="spacingAndGlyphs" >&gt;3 y</text>
<line x1="534.90" y1="291.30" x2="534.90" y2="294.50" stroke="#777" stroke-width="1" />
<text x="540.40" y="305.20" font-size="10.8" fill="#222" text-anchor="end" textLength="25.3" lengthAdjust="spacingAndGlyphs" transform="rotate(-45 540.40 305.20)" >WY15</text>
<line x1="579.90" y1="291.30" x2="579.90" y2="294.50" stroke="#777" stroke-width="1" />
<text x="585.40" y="305.20" font-size="10.8" fill="#222" text-anchor="end" textLength="25.3" lengthAdjust="spacingAndGlyphs" transform="rotate(-45 585.40 305.20)" >WY18</text>
<line x1="624.90" y1="291.30" x2="624.90" y2="294.50" stroke="#777" stroke-width="1" />
<text x="630.40" y="305.20" font-size="10.8" fill="#222" text-anchor="end" textLength="25.3" lengthAdjust="spacingAndGlyphs" transform="rotate(-45 630.40 305.20)" >WY21</text>
<text transform="translate(25.5 242) rotate(-90)" text-anchor="middle" font-size="12.3" fill="#222" textLength="56.6" lengthAdjust="spacingAndGlyphs">Discharge</text>
<text transform="translate(39.2 242.2) rotate(-90)" text-anchor="middle" font-size="12.3" fill="#222" textLength="59.4" lengthAdjust="spacingAndGlyphs">fraction (-)</text>
<text x="80.00" y="346.00" font-size="10.7" fill="#222" textLength="103" lengthAdjust="spacingAndGlyphs" >0.2% ± 0.3% per year</text>
<text x="80.00" y="360.20" font-size="10.7" fill="#f7a21b" textLength="103" lengthAdjust="spacingAndGlyphs" >0.4% ± 0.4% per year</text>
<text x="80.00" y="374.40" font-size="10.7" fill="#e0304f" textLength="103" lengthAdjust="spacingAndGlyphs" >0.7% ± 0.3% per year</text>
<text x="227.00" y="346.00" font-size="10.7" fill="#222" textLength="106" lengthAdjust="spacingAndGlyphs" >–0.4% ± 0.7% per year</text>
<text x="227.00" y="360.20" font-size="10.7" fill="#f7a21b" textLength="106" lengthAdjust="spacingAndGlyphs" >–0.4% ± 0.7% per year</text>
<text x="227.00" y="374.40" font-size="10.7" fill="#e0304f" textLength="106" lengthAdjust="spacingAndGlyphs" >–0.2% ± 0.7% per year</text>
<text x="376.00" y="346.00" font-size="10.7" fill="#222" textLength="107" lengthAdjust="spacingAndGlyphs" >–0.6% ± 0.4% per year</text>
<text x="376.00" y="360.20" font-size="10.7" fill="#f7a21b" textLength="107" lengthAdjust="spacingAndGlyphs" >–0.8% ± 0.4% per year</text>
<text x="376.00" y="374.40" font-size="10.7" fill="#e0304f" textLength="104" lengthAdjust="spacingAndGlyphs" >–1.2% ± 0.3% per year</text>
<text x="525.60" y="346.00" font-size="10.7" fill="#222" textLength="101.4" lengthAdjust="spacingAndGlyphs" >0.8% ± 0.6% per year</text>
<text x="525.60" y="360.20" font-size="10.7" fill="#f7a21b" textLength="101.4" lengthAdjust="spacingAndGlyphs" >0.8% ± 0.7% per year</text>
<text x="525.60" y="374.40" font-size="10.7" fill="#e0304f" textLength="101.4" lengthAdjust="spacingAndGlyphs" >0.7% ± 0.6% per year</text>
<text x="2.00" y="406.20" font-size="14" fill="#000" font-weight="bold" textLength="10.0" lengthAdjust="spacingAndGlyphs" stroke="#000" stroke-width="0.9">c</text>
<text x="24.00" y="407.00" font-size="12.5" fill="#222" textLength="237" lengthAdjust="spacingAndGlyphs" >Groundwater contributions to streams in:</text>
<text x="19.40" y="430.00" font-size="12.5" fill="#222" textLength="129.5" lengthAdjust="spacingAndGlyphs" >Contemporary climate</text>
<text x="322.90" y="430.40" font-size="12.5" fill="#222" textLength="90.1" lengthAdjust="spacingAndGlyphs" >Warmer climate</text>
<line x1="319.40" y1="470.00" x2="319.40" y2="563.00" stroke="#b0b0b0" stroke-width="0.8" stroke-dasharray="4.5 2"/>
<path d="M198.50,554.00 C202.08,554.47 213.08,555.95 220.00,556.80 C226.92,557.65 233.33,558.42 240.00,559.10 C246.67,559.78 253.33,560.42 260.00,560.90 C266.67,561.38 273.33,561.73 280.00,562.00 C286.67,562.27 293.57,562.40 300.00,562.50 C306.43,562.60 315.50,562.58 318.60,562.60 L318.6,580.4 C315.50,579.97 306.43,578.65 300.00,577.80 C293.57,576.95 286.67,576.22 280.00,575.30 C273.33,574.38 266.67,573.48 260.00,572.30 C253.33,571.12 246.67,569.78 240.00,568.20 C233.33,566.62 226.92,565.17 220.00,562.80 C213.08,560.43 202.08,555.47 198.50,554.00Z" fill="#c8d8f5" stroke="none"/>
<path d="M198.50,554.00 C202.08,554.47 213.08,555.95 220.00,556.80 C226.92,557.65 233.33,558.42 240.00,559.10 C246.67,559.78 253.33,560.42 260.00,560.90 C266.67,561.38 273.33,561.73 280.00,562.00 C286.67,562.27 293.57,562.40 300.00,562.50 C306.43,562.60 315.50,562.58 318.60,562.60 L318.6,580.4" fill="none" stroke="#1c2b47" stroke-width="1.3"/>
<path d="M318.6,571.3 C360,570 400,567.5 438,561.5 C420,566 400,571 385,573.9 C360,577.5 340,579.5 318.6,580.5Z" fill="#c8d8f5" stroke="none"/>
<path d="M318.6,580.5 L318.6,571.3 C360,570 395,567.5 420,565" fill="none" stroke="#1c2b47" stroke-width="1.3"/>
<path d="M14.20,496.50 C21.63,496.98 45.35,497.90 58.80,499.40 C72.25,500.90 84.70,503.42 94.90,505.50 C105.10,507.58 113.38,509.98 120.00,511.90 C126.62,513.82 129.73,514.82 134.60,517.00 C139.47,519.18 144.33,522.20 149.20,525.00 C154.07,527.80 158.93,530.63 163.80,533.80 C168.67,536.97 173.53,540.60 178.40,544.00 C183.27,547.40 188.13,551.32 193.00,554.20 C197.87,557.08 199.77,558.77 207.60,561.30 C215.43,563.83 231.27,567.37 240.00,569.40 C248.73,571.43 253.33,572.32 260.00,573.50 C266.67,574.68 273.33,575.58 280.00,576.50 C286.67,577.42 293.57,578.17 300.00,579.00 C306.43,579.83 315.50,581.08 318.60,581.50" fill="none" stroke="#2a7396" stroke-width="1.4"/>
<path d="M318.60,571.30 C326.77,571.00 354.17,570.12 367.60,569.50 C381.03,568.88 389.07,568.32 399.20,567.60 C409.33,566.88 421.60,565.72 428.40,565.20 C435.20,564.68 436.12,564.97 440.00,564.50 C443.88,564.03 447.80,563.13 451.70,562.40 C455.60,561.67 459.52,560.93 463.40,560.10 C467.28,559.27 470.07,558.78 475.00,557.40 C479.93,556.02 487.57,553.22 493.00,551.80 C498.43,550.38 503.10,549.67 507.60,548.90 C512.10,548.13 514.63,548.02 520.00,547.20 C525.37,546.38 532.37,545.05 539.80,544.00 C547.23,542.95 556.33,541.83 564.60,540.90 C572.87,539.97 581.12,539.10 589.40,538.40 C597.68,537.70 606.02,537.12 614.30,536.70 C622.58,536.28 628.57,536.12 639.10,535.90 C649.63,535.68 671.10,535.48 677.50,535.40" fill="none" stroke="#2a7396" stroke-width="1.4"/>
<path d="M10.00,477.20 C17.50,477.77 42.00,479.30 55.00,480.60 C68.00,481.90 78.83,483.00 88.00,485.00 C97.17,487.00 104.67,490.67 110.00,492.60 C115.33,494.53 115.90,494.48 120.00,496.60 C124.10,498.72 129.73,502.38 134.60,505.30 C139.47,508.22 144.33,510.68 149.20,514.10 C154.07,517.52 158.93,521.78 163.80,525.80 C168.67,529.82 173.53,534.18 178.40,538.20 C183.27,542.22 187.73,546.33 193.00,549.90 C198.27,553.47 202.17,556.55 210.00,559.60 C217.83,562.65 231.67,566.08 240.00,568.20 C248.33,570.32 253.33,571.12 260.00,572.30 C266.67,573.48 273.33,574.38 280.00,575.30 C286.67,576.22 293.57,576.95 300.00,577.80 C306.43,578.65 310.27,580.27 318.60,580.40 C326.93,580.53 341.43,579.27 350.00,578.60 C358.57,577.93 363.33,577.23 370.00,576.40 C376.67,575.57 383.33,574.73 390.00,573.60 C396.67,572.47 403.60,571.08 410.00,569.60 C416.40,568.12 423.40,566.10 428.40,564.70 C433.40,563.30 436.12,562.70 440.00,561.20 C443.88,559.70 447.80,557.78 451.70,555.70 C455.60,553.62 459.52,551.23 463.40,548.70 C467.28,546.17 471.60,542.97 475.00,540.50 C478.40,538.03 480.38,536.45 483.80,533.90 C487.22,531.35 491.60,527.97 495.50,525.20 C499.40,522.43 503.45,519.55 507.20,517.30 C510.95,515.05 514.03,513.67 518.00,511.70 C521.97,509.73 526.22,507.78 531.00,505.50 C535.78,503.22 542.52,499.83 546.70,498.00 C550.88,496.17 550.55,496.35 556.10,494.50 C561.65,492.65 570.75,489.22 580.00,486.90 C589.25,484.58 600.77,482.08 611.60,480.60 C622.43,479.12 634.18,478.55 645.00,478.00 C655.82,477.45 671.25,477.42 676.50,477.30" fill="none" stroke="#1a1a1a" stroke-width="1.5"/>
<polygon points="53.1,491.6 65.5,491.6 59.3,499.2" fill="#1b5f80"/>
<polygon points="648.1,525.1 661.7,525.1 654.9,533" fill="#1b5f80"/>
<path d="M54.79,469.29 C54.10,469.10 52.97,469.66 51.43,469.54 C49.90,469.43 46.84,469.16 45.58,468.60 C44.33,468.03 44.18,467.33 43.90,466.16 C43.62,464.99 43.62,462.73 43.90,461.59 C44.18,460.45 44.73,459.82 45.58,459.33 C46.44,458.84 47.78,458.86 49.00,458.66 C50.22,458.46 51.93,458.42 52.91,458.15 C53.88,457.88 54.03,457.70 54.85,457.02 C55.67,456.35 56.93,454.70 57.82,454.09 C58.72,453.49 59.63,453.28 60.23,453.40 C60.84,453.52 61.20,454.21 61.45,454.78 C61.70,455.36 60.86,456.38 61.71,456.84 C62.56,457.30 65.62,456.97 66.55,457.53 C67.48,458.10 67.25,459.17 67.30,460.23 C67.35,461.28 67.20,462.86 66.83,463.85 C66.46,464.84 66.02,465.55 65.08,466.16 C64.14,466.76 61.96,466.79 61.19,467.47 C60.42,468.15 60.85,469.53 60.44,470.22 C60.04,470.91 59.44,471.45 58.76,471.60 C58.08,471.75 56.88,471.27 56.35,471.11 C55.82,470.95 55.86,470.96 55.60,470.65 C55.34,470.35 55.49,469.47 54.79,469.29Z" fill="#fff" stroke="#1a1a1a" stroke-width="1.7" stroke-linejoin="round"/>
<path d="M55.50,480.20 L55.50,459.41 M50.69,464.14 L55.27,469.05 M60.75,458.86 L55.50,463.77" fill="none" stroke="#1a1a1a" stroke-width="1.7" stroke-linecap="round"/>
<path d="M87.50,469.00 C86.47,468.71 84.79,469.60 82.51,469.41 C80.22,469.23 75.67,468.80 73.81,467.90 C71.94,467.00 71.72,465.87 71.30,464.00 C70.88,462.13 70.88,458.51 71.30,456.69 C71.72,454.88 72.54,453.87 73.81,453.09 C75.07,452.31 77.07,452.33 78.89,452.01 C80.70,451.69 83.25,451.63 84.70,451.20 C86.15,450.76 86.37,450.47 87.59,449.39 C88.80,448.31 90.67,445.67 92.01,444.71 C93.34,443.74 94.69,443.42 95.59,443.60 C96.49,443.78 97.03,444.89 97.40,445.81 C97.77,446.73 96.52,448.37 97.78,449.10 C99.05,449.83 103.60,449.30 104.99,450.21 C106.37,451.11 106.03,452.83 106.10,454.51 C106.17,456.20 105.95,458.72 105.40,460.30 C104.85,461.88 104.19,463.03 102.79,464.00 C101.40,464.96 98.17,465.01 97.02,466.09 C95.87,467.18 96.51,469.39 95.90,470.49 C95.30,471.59 94.41,472.46 93.40,472.70 C92.38,472.94 90.60,472.17 89.81,471.91 C89.03,471.66 89.09,471.67 88.70,471.19 C88.31,470.70 88.53,469.30 87.50,469.00Z" fill="#fff" stroke="#1a1a1a" stroke-width="1.7" stroke-linejoin="round"/>
<path d="M88.70,484.50 L88.70,453.20 M81.39,460.77 L88.35,468.63 M96.36,452.33 L88.70,460.19" fill="none" stroke="#1a1a1a" stroke-width="1.7" stroke-linecap="round"/>
<path d="M109.73,483.05 C109.03,482.85 107.89,483.44 106.33,483.32 C104.78,483.20 101.68,482.91 100.41,482.32 C99.13,481.72 98.98,480.97 98.70,479.73 C98.42,478.49 98.42,476.09 98.70,474.88 C98.98,473.68 99.55,473.01 100.41,472.49 C101.27,471.97 102.63,471.99 103.87,471.78 C105.10,471.57 106.84,471.53 107.82,471.24 C108.81,470.95 108.96,470.76 109.79,470.04 C110.62,469.32 111.89,467.57 112.80,466.93 C113.71,466.29 114.63,466.08 115.24,466.20 C115.85,466.32 116.23,467.06 116.48,467.67 C116.72,468.27 115.87,469.36 116.74,469.85 C117.60,470.33 120.70,469.98 121.64,470.58 C122.59,471.18 122.35,472.32 122.40,473.44 C122.45,474.55 122.30,476.23 121.93,477.28 C121.55,478.33 121.10,479.09 120.15,479.73 C119.20,480.37 117.00,480.40 116.21,481.12 C115.43,481.84 115.87,483.30 115.46,484.03 C115.05,484.76 114.44,485.34 113.75,485.50 C113.06,485.66 111.84,485.15 111.31,484.98 C110.78,484.81 110.81,484.82 110.55,484.50 C110.29,484.17 110.44,483.25 109.73,483.05Z" fill="#fff" stroke="#1a1a1a" stroke-width="1.7" stroke-linejoin="round"/>
<path d="M110.00,492.50 L110.00,472.57 M105.57,477.59 L109.76,482.80 M115.76,471.99 L110.00,477.20" fill="none" stroke="#1a1a1a" stroke-width="1.7" stroke-linecap="round"/>
<path d="M555.29,484.00 C554.60,483.81 553.47,484.38 551.93,484.26 C550.40,484.14 547.34,483.87 546.08,483.28 C544.83,482.70 544.68,481.96 544.40,480.75 C544.12,479.54 544.12,477.19 544.40,476.00 C544.68,474.82 545.23,474.17 546.08,473.66 C546.93,473.15 548.28,473.17 549.50,472.96 C550.72,472.76 552.43,472.72 553.41,472.43 C554.38,472.15 554.53,471.96 555.35,471.26 C556.17,470.56 557.43,468.85 558.32,468.22 C559.22,467.59 560.13,467.38 560.73,467.50 C561.34,467.62 561.70,468.34 561.95,468.94 C562.20,469.53 561.36,470.60 562.21,471.07 C563.06,471.55 566.12,471.20 567.05,471.79 C567.98,472.38 567.75,473.49 567.80,474.59 C567.85,475.68 567.70,477.32 567.33,478.35 C566.96,479.38 566.52,480.12 565.58,480.75 C564.64,481.38 562.46,481.41 561.69,482.11 C560.92,482.81 561.35,484.25 560.94,484.96 C560.54,485.68 559.94,486.25 559.26,486.40 C558.58,486.55 557.38,486.05 556.85,485.89 C556.32,485.73 556.36,485.73 556.10,485.42 C555.84,485.10 555.99,484.19 555.29,484.00Z" fill="#fff" stroke="#1a1a1a" stroke-width="1.7" stroke-linejoin="round"/>
<path d="M556.40,494.80 L556.40,473.74 M551.19,478.65 L556.17,483.75 M561.25,473.17 L556.40,478.27" fill="none" stroke="#1a1a1a" stroke-width="1.7" stroke-linecap="round"/>
<path d="M581.02,470.43 C580.01,470.15 578.36,471.00 576.11,470.82 C573.87,470.65 569.40,470.23 567.56,469.36 C565.73,468.49 565.51,467.40 565.10,465.60 C564.69,463.80 564.69,460.30 565.10,458.54 C565.51,456.79 566.32,455.81 567.56,455.06 C568.81,454.31 570.77,454.33 572.56,454.02 C574.34,453.72 576.84,453.66 578.27,453.23 C579.69,452.81 579.91,452.54 581.11,451.49 C582.30,450.45 584.14,447.90 585.45,446.97 C586.76,446.04 588.09,445.72 588.97,445.90 C589.86,446.08 590.39,447.15 590.75,448.04 C591.11,448.92 589.88,450.50 591.13,451.21 C592.37,451.92 596.84,451.41 598.21,452.28 C599.57,453.15 599.23,454.81 599.30,456.44 C599.37,458.06 599.16,460.50 598.62,462.03 C598.07,463.56 597.42,464.67 596.05,465.60 C594.68,466.53 591.50,466.58 590.37,467.62 C589.25,468.67 589.87,470.80 589.28,471.86 C588.69,472.93 587.81,473.77 586.82,474.00 C585.82,474.23 584.06,473.48 583.29,473.24 C582.52,473.00 582.58,473.01 582.20,472.54 C581.82,472.07 582.03,470.72 581.02,470.43Z" fill="#fff" stroke="#1a1a1a" stroke-width="1.7" stroke-linejoin="round"/>
<path d="M582.20,485.70 L582.20,455.17 M575.02,462.48 L581.86,470.07 M589.72,454.33 L582.20,461.92" fill="none" stroke="#1a1a1a" stroke-width="1.7" stroke-linecap="round"/>
<path d="M610.33,471.16 C609.63,470.97 608.49,471.55 606.93,471.43 C605.38,471.31 602.28,471.03 601.01,470.43 C599.73,469.84 599.58,469.09 599.30,467.86 C599.02,466.63 599.02,464.24 599.30,463.04 C599.58,461.84 600.15,461.17 601.01,460.66 C601.87,460.14 603.23,460.16 604.47,459.95 C605.70,459.74 607.44,459.70 608.42,459.41 C609.41,459.12 609.56,458.93 610.39,458.22 C611.22,457.51 612.49,455.77 613.40,455.13 C614.31,454.49 615.23,454.28 615.84,454.40 C616.45,454.52 616.83,455.25 617.08,455.86 C617.32,456.46 616.47,457.55 617.34,458.03 C618.20,458.51 621.30,458.16 622.24,458.76 C623.19,459.35 622.95,460.49 623.00,461.60 C623.05,462.71 622.90,464.38 622.53,465.42 C622.15,466.46 621.70,467.22 620.75,467.86 C619.80,468.50 617.60,468.53 616.81,469.24 C616.03,469.96 616.47,471.41 616.06,472.14 C615.65,472.87 615.04,473.44 614.35,473.60 C613.66,473.76 612.44,473.25 611.91,473.08 C611.38,472.92 611.41,472.92 611.15,472.60 C610.89,472.28 611.04,471.36 610.33,471.16Z" fill="#fff" stroke="#1a1a1a" stroke-width="1.7" stroke-linejoin="round"/>
<path d="M611.20,480.60 L611.20,460.74 M606.17,465.73 L610.96,470.91 M616.36,460.16 L611.20,465.34" fill="none" stroke="#1a1a1a" stroke-width="1.7" stroke-linecap="round"/>
<path d="M563.7,463.5 C563.4,457 561.5,452.8 558.2,451.3 C554.8,449.8 552.9,446.5 552.3,442.5" fill="none" stroke="#1a1a1a" stroke-width="1.4"/>
<polygon points="551.60,437.30 555.80,443.75 552.38,442.49 549.47,444.70" fill="#1a1a1a"/>
<path d="M581,449.4 C580.8,443 579,438.6 575.6,437 C572.2,435.5 570.2,433.5 569.4,429.5" fill="none" stroke="#1a1a1a" stroke-width="1.4"/>
<polygon points="568.80,424.00 573.00,430.45 569.58,429.19 566.67,431.40" fill="#1a1a1a"/>
<path d="M603.6,452.3 C603.4,446 601.5,441.6 598,440.3 C594.6,439 592.8,436.3 592,432.5" fill="none" stroke="#1a1a1a" stroke-width="1.4"/>
<polygon points="591.40,427.30 595.60,433.75 592.18,432.49 589.27,434.70" fill="#1a1a1a"/>
<path d="M116.3,491.1 C118,495 121,497.6 127,498.1 L145.5,498.4" fill="none" stroke="#524795" stroke-width="1.3"/>
<polygon points="150.20,497.60 145.47,502.61 145.85,499.25 143.34,497.00" fill="#524795"/>
<path d="M92.2,508.6 C94,512 96.5,514.6 102,515.5 C115,516.8 128,516.8 139.5,516.2" fill="none" stroke="#524795" stroke-width="1.3"/>
<polygon points="143.80,515.00 139.16,520.09 139.48,516.73 136.93,514.52" fill="#524795"/>
<path d="M526.4,506.7 C523,509.2 516,509.9 508,509.8 L502,509.7" fill="none" stroke="#524795" stroke-width="1.3"/>
<polygon points="497.50,509.60 504.30,508.51 501.95,510.94 502.58,514.26" fill="#524795"/>
<path d="M541,527.8 C537,531.5 528,532.6 518,532.9 L475.5,533" fill="none" stroke="#524795" stroke-width="1.3"/>
<polygon points="470.80,532.50 477.60,531.41 475.25,533.84 475.88,537.16" fill="#524795"/>
<path d="M2.3,540.9 C5,548 10,551.5 20,554.5 C45,561 80,565 111,566.2" fill="none" stroke="#5aa84a" stroke-width="2"/>
<polygon points="115.40,566.00 108.99,569.19 110.53,566.15 108.81,563.20" fill="#5aa84a"/>
<path d="M120.5,563.8 C123,567 126,569 132,569.3 L168.5,569.3" fill="none" stroke="#5aa84a" stroke-width="1.8" stroke-dasharray="4 2.2"/>
<polygon points="172.60,569.10 166.66,572.02 168.10,569.19 166.55,566.42" fill="#5aa84a"/>
<path d="M176.4,567 C185,568.2 197,566.5 205,564.5" fill="none" stroke="#5aa84a" stroke-width="1" stroke-dasharray="2 1.8"/>
<polygon points="208.70,563.80 204.25,567.04 205.02,564.54 203.35,562.53" fill="#5aa84a"/>
<path d="M453,572 C452.5,579.5 446,583.3 430,583.3 C416,583.2 406,581.5 398.5,579.8" fill="none" stroke="#5aa84a" stroke-width="1.1" stroke-dasharray="2.5 2"/>
<polygon points="394.70,578.80 400.62,577.81 398.70,579.80 399.45,582.46" fill="#5aa84a"/>
<text x="35.10" y="542.20" font-size="12.5" fill="#2f5f30" textLength="97.5" lengthAdjust="spacingAndGlyphs" >Intermediate age</text>
<text x="35.10" y="556.60" font-size="12.5" fill="#2f5f30" textLength="96.2" lengthAdjust="spacingAndGlyphs" >Declining in time</text>
<text x="525.70" y="576.00" font-size="12.5" fill="#2f5f30" text-anchor="middle" textLength="157.5" lengthAdjust="spacingAndGlyphs" >Accelerated decline in time</text>
<text x="527.30" y="590.80" font-size="12.5" fill="#2f5f30" text-anchor="middle" textLength="97.1" lengthAdjust="spacingAndGlyphs" >Intermediate age</text>
<text x="153.10" y="496.60" font-size="12.5" fill="#524795" textLength="59.8" lengthAdjust="spacingAndGlyphs" >Young age</text>
<text x="153.10" y="511.70" font-size="12.5" fill="#524795" textLength="124.3" lengthAdjust="spacingAndGlyphs" >Interannually variable</text>
<text x="467.00" y="489.80" font-size="12.5" fill="#2b2ba0" text-anchor="middle" textLength="51.5" lengthAdjust="spacingAndGlyphs" >Seasonal</text>
<text x="467.00" y="503.70" font-size="12.5" fill="#2b2ba0" text-anchor="middle" textLength="48.5" lengthAdjust="spacingAndGlyphs" >changes</text>
<text x="466.60" y="518.60" font-size="12.5" fill="#2b2ba0" text-anchor="middle" textLength="73.5" lengthAdjust="spacingAndGlyphs" >to young age</text>
<path d="M401.6,486.7 C396.8,482.5 397.2,475.8 402.5,474.2 C405.5,473.3 409.3,474.3 411.1,476.6 Q403,477.5 401.6,486.7 Z" fill="#1a4a6e" stroke="#0c0c8a" stroke-width="1.5" stroke-linejoin="round"/>
<path d="M432.2,486.7 C437,482.5 436.6,475.8 431.3,474.2 C428.3,473.3 424.5,474.3 422.7,476.6 Q430.8,477.5 432.2,486.7 Z" fill="#1a4a6e" stroke="#0c0c8a" stroke-width="1.5" stroke-linejoin="round"/>
<circle cx="406.6" cy="506.3" r="2.8" fill="#1a4a6e" stroke="#0c0c8a" stroke-width="1.3"/>
<circle cx="427.2" cy="506.3" r="2.8" fill="#1a4a6e" stroke="#0c0c8a" stroke-width="1.3"/>
<circle cx="416.9" cy="492.4" r="14.2" fill="#fff" stroke="#0c0c8a" stroke-width="1.7"/>
<polyline points="408.8,485.4 416.4,492.5 420.3,489.1" fill="none" stroke="#0c0c8a" stroke-width="1.6"/>
<text x="363.50" y="532.70" font-size="12.5" fill="#9a9a9a" text-anchor="middle" textLength="67.2" lengthAdjust="spacingAndGlyphs" >Less annual</text>
<text x="364.10" y="546.70" font-size="12.5" fill="#9a9a9a" text-anchor="middle" textLength="64.2" lengthAdjust="spacingAndGlyphs" >streamflow</text>
<text x="363.80" y="561.30" font-size="12.5" fill="#9a9a9a" text-anchor="middle" textLength="67.7" lengthAdjust="spacingAndGlyphs" >that is older</text>
<text x="635.30" y="443.90" font-size="12.5" fill="#9a9a9a" text-anchor="middle" textLength="56.1" lengthAdjust="spacingAndGlyphs" >Increased</text>
<text x="637.20" y="458.70" font-size="12.5" fill="#9a9a9a" text-anchor="middle" textLength="13.1" lengthAdjust="spacingAndGlyphs" >ET</text>
<text x="661.10" y="597.30" font-size="12.5" fill="#9a9a9a" text-anchor="middle" textLength="24.8" lengthAdjust="spacingAndGlyphs" >Less</text>
<text x="662.10" y="611.80" font-size="12.5" fill="#9a9a9a" text-anchor="middle" textLength="44.3" lengthAdjust="spacingAndGlyphs" >ground-</text>
<text x="661.10" y="626.50" font-size="12.5" fill="#9a9a9a" text-anchor="middle" textLength="31.4" lengthAdjust="spacingAndGlyphs" >water</text>
<text x="662.20" y="641.00" font-size="12.5" fill="#9a9a9a" text-anchor="middle" textLength="42.2" lengthAdjust="spacingAndGlyphs" >storage</text>
<text x="607.00" y="517.20" font-size="12.5" fill="#2b7ba5" text-anchor="middle" textLength="119.9" lengthAdjust="spacingAndGlyphs" >Lower high-elevation</text>
<text x="608.70" y="531.90" font-size="12.5" fill="#2b7ba5" text-anchor="middle" textLength="73.5" lengthAdjust="spacingAndGlyphs" >groundwater</text>
<path d="M629.2,544.3 L632.9,544.3 L632.9,688 L629.2,688 M632.9,616.3 L640,616.3" fill="none" stroke="#1a1a1a" stroke-width="1.5"/>
<polygon points="367.2,593.1 385.5,581.2 384.5,589.4 612.3,637.8 608.3,653.6 380.4,605.2 379.4,612.9" fill="#e6e6e6" stroke="#c77a27" stroke-width="1.2" stroke-linejoin="miter"/>
<text x="409.50" y="626.20" font-size="12.5" fill="#c77a27" textLength="179" lengthAdjust="spacingAndGlyphs" transform="rotate(12 409.50 626.20)" >More old groundwater draining</text>
<path d="M2.90,646.90 C3.83,647.63 6.07,650.13 8.50,651.30 C10.93,652.47 13.08,653.57 17.50,653.90 C21.92,654.23 24.58,654.47 35.00,653.30 C45.42,652.13 60.83,651.03 80.00,646.90 C99.17,642.77 125.00,635.47 150.00,628.50 C175.00,621.53 213.33,610.10 230.00,605.10 C246.67,600.10 242.67,601.52 250.00,598.50 C257.33,595.48 270.00,588.92 274.00,587.00" fill="none" stroke="#c77a27" stroke-width="1.3"/>
<polygon points="278.20,585.20 273.42,590.42 273.75,587.20 271.12,585.31" fill="#c77a27"/>
<text x="11.00" y="638.80" font-size="12.5" fill="#c77a27" textLength="220" lengthAdjust="spacingAndGlyphs" transform="rotate(-14.5 11.00 638.80)" >Old groundwater consistency draining</text>
<text x="14.60" y="653.30" font-size="12.5" fill="#c77a27" textLength="261" lengthAdjust="spacingAndGlyphs" transform="rotate(-15 14.60 653.30)" >and buffers streamflow during low-snow year</text>
</svg>
</body></html>
